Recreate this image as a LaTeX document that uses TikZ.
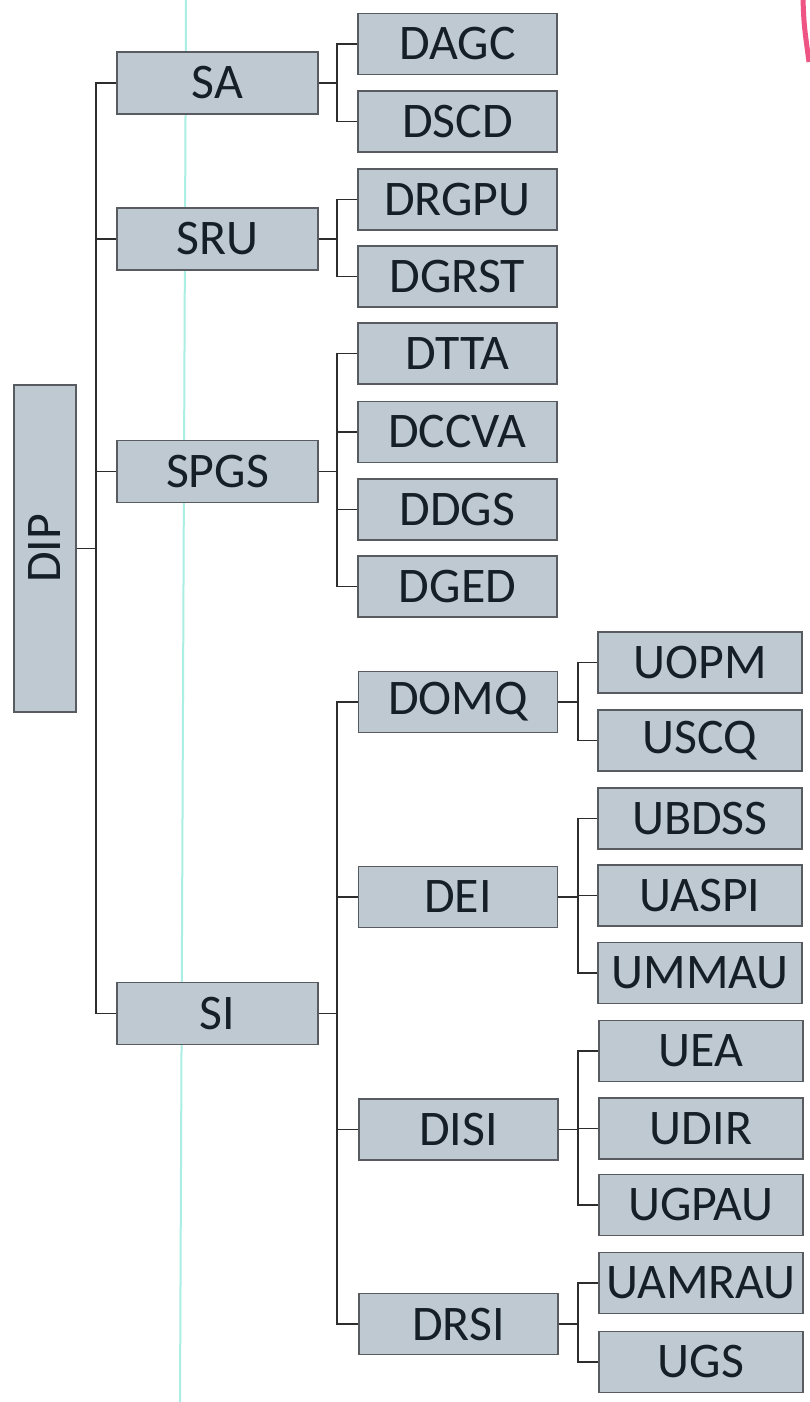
\documentclass[tikz,border=0pt]{standalone}
\usepackage{fontspec}
\setmainfont{Carlito}
\definecolor{boxfill}{RGB}{191,201,209}
\definecolor{boxline}{RGB}{88,92,96}
\definecolor{linkcol}{RGB}{45,45,45}
\definecolor{txtcol}{RGB}{22,30,38}
\definecolor{scancyan}{RGB}{170,238,228}
\definecolor{scanpink}{RGB}{238,84,132}
\tikzset{
  orgbox/.style={draw=boxline, line width=1.4bp, fill=boxfill, rectangle,
    inner sep=0pt, text=txtcol, font=\fontsize{50}{52}\selectfont},
  lvlone/.style={orgbox, minimum width=201bp, minimum height=62bp},
  lvltwo/.style={orgbox, minimum width=199bp, minimum height=61bp},
  lvlthree/.style={orgbox, minimum width=204bp, minimum height=61bp},
  link/.style={draw=linkcol, line width=1.8bp}
}
\begin{document}
\begin{tikzpicture}[x=1bp,y=-1bp]
\useasboundingbox (0,0) rectangle (809,1402);
\fill[white] (0,0) rectangle (809,1402);
% scan artefacts
\draw[scancyan, line width=2bp] (186,0) -- (180,1402);
\draw[scanpink, line width=5bp] (803,0) .. controls (804,25) .. (809,62);

% fork coordinates
\coordinate (f1) at (96,0);
\coordinate (f2) at (337,0);
\coordinate (f3) at (578,0);

% root
\node[orgbox, minimum width=62bp, minimum height=327bp] (DIP) at (45,548.5) {\rotatebox{90}{DIP}};

% level 1
\node[lvlone] (SA)   at (217.5,83)   {SA};
\node[lvlone] (SRU)  at (217.5,239)  {SRU};
\node[lvlone] (SPGS) at (217.5,471.5){SPGS};
\node[lvlone] (SI)   at (217.5,1013.5){SI};

% level 2
\node[lvltwo] (DAGC)  at (457.5,44)    {DAGC};
\node[lvltwo] (DSCD)  at (457.5,121.5) {DSCD};
\node[lvltwo] (DRGPU) at (457.5,199.5) {DRGPU};
\node[lvltwo] (DGRST) at (457.5,276.5) {DGRST};
\node[lvltwo] (DTTA)  at (457.5,353.5) {DTTA};
\node[lvltwo] (DCCVA) at (457.5,432)   {DCCVA};
\node[lvltwo] (DDGS)  at (457.5,509.5) {DDGS};
\node[lvltwo] (DGED)  at (457.5,586.5) {DGED};
\node[lvltwo] (DOMQ)  at (458,702)     {DOMQ};
\node[lvltwo] (DEI)   at (458,897)     {DEI};
\node[lvltwo] (DISI)  at (458.5,1129.5){DISI};
\node[lvltwo] (DRSI)  at (458.5,1324)  {DRSI};

% level 3
\node[lvlthree] (UOPM)   at (700,662.5)  {UOPM};
\node[lvlthree] (USCQ)   at (700,740.5)  {USCQ};
\node[lvlthree] (UBDSS)  at (700,818.5)  {UBDSS};
\node[lvlthree] (UASPI)  at (700,895.5)  {UASPI};
\node[lvlthree] (UMMAU)  at (700,973)    {UMMAU};
\node[lvlthree] (UEA)    at (701,1051)   {UEA};
\node[lvlthree] (UDIR)   at (701,1128.5) {UDIR};
\node[lvlthree] (UGPAU)  at (701,1205)   {UGPAU};
\node[lvlthree] (UAMRAU) at (701,1283)   {UAMRAU};
\node[lvlthree] (UGS)    at (701,1362)   {UGS};

% connectors
\foreach \c in {SA,SRU,SPGS,SI}
  \draw[link] (DIP.east) -- (DIP.east -| f1) |- (\c.west);
\foreach \p/\c in {SA/DAGC,SA/DSCD,SRU/DRGPU,SRU/DGRST,
                   SPGS/DTTA,SPGS/DCCVA,SPGS/DDGS,SPGS/DGED,
                   SI/DOMQ,SI/DEI,SI/DISI,SI/DRSI}
  \draw[link] (\p.east) -- (\p.east -| f2) |- (\c.west);
\foreach \p/\c in {DOMQ/UOPM,DOMQ/USCQ,DEI/UBDSS,DEI/UASPI,DEI/UMMAU,
                   DISI/UEA,DISI/UDIR,DISI/UGPAU,DRSI/UAMRAU,DRSI/UGS}
  \draw[link] (\p.east) -- (\p.east -| f3) |- (\c.west);
\end{tikzpicture}
\end{document}
